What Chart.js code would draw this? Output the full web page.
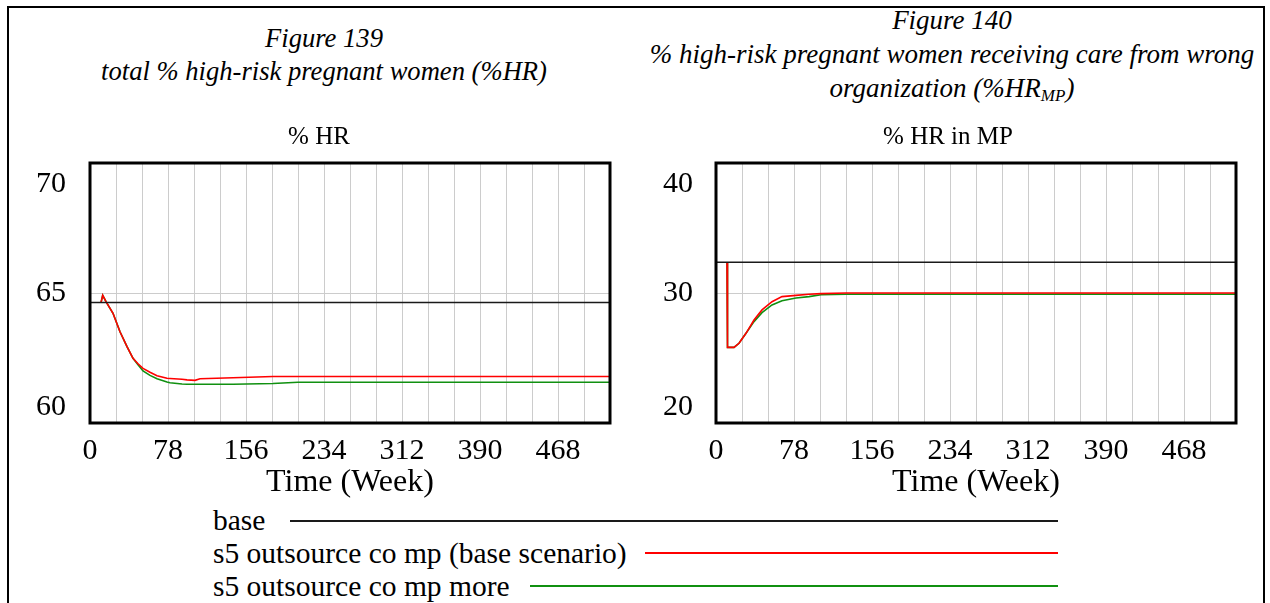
<!DOCTYPE html>
<html>
<head>
<meta charset="utf-8">
<script src="https://cdn.jsdelivr.net/npm/chart.js@4/dist/chart.umd.min.js"></script>
<style>
  html, body { margin: 0; padding: 0; background: #fff; }
  body { width: 1270px; height: 603px; position: relative; overflow: hidden;
         font-family: "Liberation Serif", "Times New Roman", serif; color: #000; }
  .frame { position: absolute; left: 7px; top: 6px; width: 1254px; height: 640px;
           border: 2px solid #000; border-bottom: none; }
  .heading { position: absolute; text-align: center; font-style: italic; font-size: 26.6px; line-height: 33px; }
  .heading sub { font-size: 17px; vertical-align: -4px; line-height: 0; }
  canvas { position: absolute; }
  .lg-text { position: absolute; left: 213px; font-size: 29.5px; line-height: 32px; white-space: nowrap; }
  .lg-line { position: absolute; height: 2px; }
</style>
</head>
<body>
<div class="frame"></div>

<div class="heading" style="left:8px; width:632px; top:22px;">Figure 139<br>total % high-risk pregnant women (%HR)</div>
<div class="heading" style="left:640px; width:624px; top:3px; line-height:34px; font-size:27px;">Figure 140<br>% high-risk pregnant women receiving care from wrong<br>organization (%HR<sub>MP</sub>)</div>

<canvas id="chartHR" width="592" height="385" style="left:28px; top:118px;"></canvas>
<canvas id="chartMP" width="586" height="385" style="left:660px; top:118px;"></canvas>

<div class="lg-text" style="top:504px;">base</div>
<div class="lg-line" style="left:290px; width:768px; top:520px; background:#1a1a1a;"></div>
<div class="lg-text" style="top:537px;">s5 outsource co mp (base scenario)</div>
<div class="lg-line" style="left:645px; width:413px; top:552px; background:#ff0000;"></div>
<div class="lg-text" style="top:570px;">s5 outsource co mp more</div>
<div class="lg-line" style="left:530px; width:528px; top:585px; background:#109010;"></div>

<script>
// Simulation horizon and axis tick values
const weekRange = [0, 520];
const weekGridStep = 26;
const weekLabelStep = 78;

// % HR (total % high-risk pregnant women)
const hrBaseWeeks = [0, 520];
const hrBase = [64.63, 64.63];
const hrWeeks = [11, 12.7, 16, 23, 30, 37, 43, 48, 53, 60, 67, 77, 80, 92, 97, 105, 110, 143, 183, 208, 520];
const hrOutsource = [64.63, 64.91, 64.67, 64.22, 63.51, 62.94, 62.49, 62.28, 62.1, 61.95, 61.82, 61.72, 61.71, 61.68, 61.66, 61.64, 61.70, 61.74, 61.79, 61.79, 61.79];
const hrOutsourceMore = [64.63, 64.91, 64.67, 64.22, 63.51, 62.94, 62.49, 62.24, 62.0, 61.83, 61.7, 61.58, 61.55, 61.5, 61.49, 61.49, 61.49, 61.49, 61.52, 61.57, 61.57];
const hrAxis = { min: 60, max: 70, step: 2.5, labelStep: 5 };

// % HR in MP (high-risk women cared for by the wrong organization)
const mpBaseWeeks = [0, 520];
const mpBase = [32.36, 32.36];
const mpWeeks = [11, 11.5, 18, 23, 30, 38, 46, 56, 66, 80, 93, 105, 130, 520];
const mpOutsource = [32.36, 25.82, 25.82, 26.13, 26.9, 27.92, 28.7, 29.33, 29.72, 29.82, 29.9, 29.95, 30.0, 30.0];
const mpOutsourceMore = [32.36, 25.82, 25.82, 26.13, 26.9, 27.8, 28.49, 29.08, 29.41, 29.62, 29.72, 29.87, 29.9, 29.9];
const mpAxis = { min: 20, max: 40, step: 5, labelStep: 10 };

const seriesNames = ['base', 's5 outsource co mp (base scenario)', 's5 outsource co mp more'];
const seriesColors = ['#1a1a1a', '#ff0000', '#109010'];

const serif = '"Liberation Serif", "Times New Roman", serif';

function points(xs, ys) {
  return xs.map((x, i) => ({ x: x, y: ys[i] }));
}

// Heavy black box around the plotting area
const plotFrame = {
  id: 'plotFrame',
  afterDatasetsDraw(chart) {
    const a = chart.chartArea, ctx = chart.ctx;
    ctx.save();
    ctx.strokeStyle = '#000';
    ctx.lineWidth = 3;
    ctx.strokeRect(a.left, a.top, a.right - a.left, a.bottom - a.top);
    ctx.restore();
  }
};

function makeChart(id, title, axis, yWidth, yPad, sets) {
  const datasets = sets.map((s, i) => ({
    label: seriesNames[i],
    data: points(s[0], s[1]),
    borderColor: seriesColors[i],
    borderWidth: i === 0 ? 1.5 : 1.6,
    pointRadius: 0,
    tension: 0,
    fill: false
  }));
  return new Chart(document.getElementById(id), {
    type: 'line',
    data: { datasets: datasets },
    options: {
      responsive: false,
      animation: false,
      devicePixelRatio: 1,
      layout: { padding: { left: 0, right: 10, top: 0, bottom: 0 }, autoPadding: false },
      plugins: {
        legend: { display: false },
        tooltip: { enabled: false },
        title: {
          display: true,
          text: title,
          color: '#000',
          font: { family: serif, size: 25, weight: 'normal' },
          padding: { top: 4, bottom: 11 }
        }
      },
      scales: {
        x: {
          type: 'linear',
          min: weekRange[0],
          max: weekRange[1],
          grid: { color: '#cccccc', lineWidth: 1, drawTicks: false },
          border: { display: false },
          ticks: {
            stepSize: weekGridStep,
            autoSkip: false,
            maxRotation: 0,
            padding: 10,
            color: '#000',
            font: { family: serif, size: 30 },
            callback: v => (v % weekLabelStep === 0 && v < weekRange[1]) ? String(v) : ''
          },
          title: {
            display: true,
            text: 'Time (Week)',
            color: '#000',
            font: { family: serif, size: 32 },
            padding: { top: 0, bottom: 1 }
          },
          afterFit: s => { s.height = 80; }
        },
        y: {
          min: axis.min,
          max: axis.max,
          grid: { color: '#cccccc', lineWidth: 1, drawTicks: false },
          border: { display: false },
          ticks: {
            stepSize: axis.step,
            padding: yPad,
            color: '#000',
            // end labels sit just inside the plot box
            font: ctx => {
              const v = ctx.tick ? ctx.tick.value : null;
              const lh = v === axis.max ? '42px' : (v === axis.min ? '32px' : 1.2);
              return { family: serif, size: 30, lineHeight: lh };
            },
            callback: v => {
              if (v % axis.labelStep !== 0) return '';
              if (v === axis.max) return ['', String(v)];
              if (v === axis.min) return [String(v), ''];
              return String(v);
            }
          },
          afterFit: s => {
            s.width = yWidth;
            s.paddingTop = 0;
            s.paddingBottom = 0;
          }
        }
      }
    },
    plugins: [plotFrame]
  });
}

makeChart('chartHR', '% HR', hrAxis, 62, 24, [
  [hrBaseWeeks, hrBase],
  [hrWeeks, hrOutsource],
  [hrWeeks, hrOutsourceMore]
]);

makeChart('chartMP', '% HR in MP', mpAxis, 56, 23, [
  [mpBaseWeeks, mpBase],
  [mpWeeks, mpOutsource],
  [mpWeeks, mpOutsourceMore]
]);
</script>
</body>
</html>
